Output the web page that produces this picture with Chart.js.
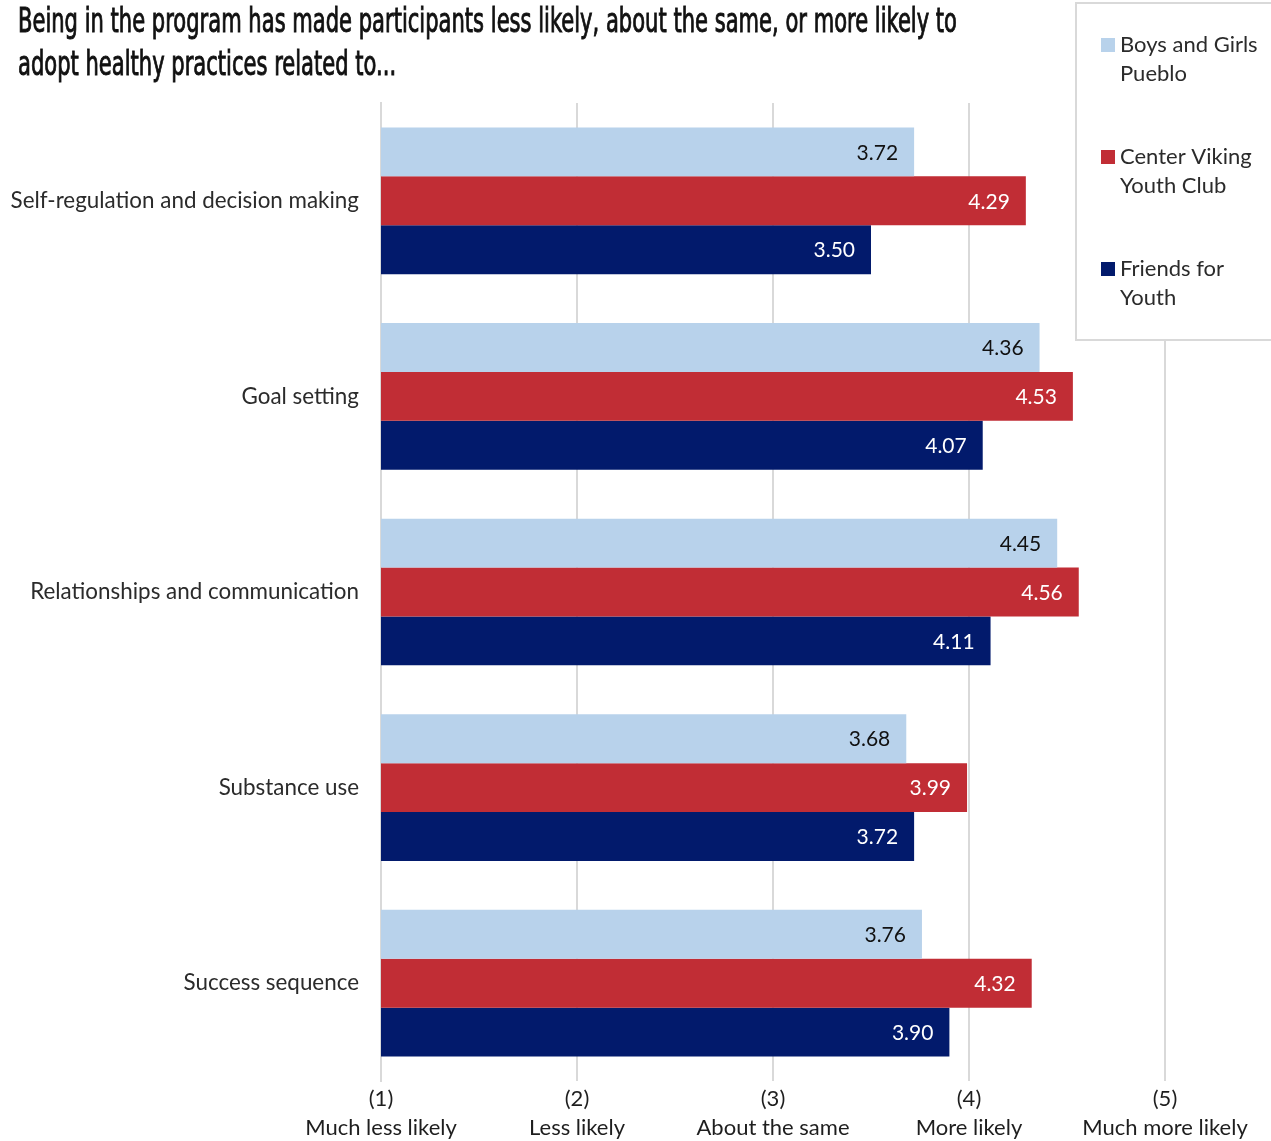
<!DOCTYPE html>
<html>
<head>
<meta charset="utf-8">
<title>Healthy practices by program</title>
<script src="https://cdn.jsdelivr.net/npm/chart.js@4"></script>
<style>
  html, body { margin: 0; padding: 0; background: #fff; }
  #wrap { width: 1271px; height: 1141px; position: relative; }
</style>
</head>
<body>
<div id="wrap"><canvas id="practiceChart" width="1271" height="1141"></canvas></div>
<script>
const titleLines = [
  'Being in the program has made participants less likely, about the same, or more likely to',
  'adopt healthy practices related to...'
];
const categories = [
  'Self-regulation and decision making',
  'Goal setting',
  'Relationships and communication',
  'Substance use',
  'Success sequence'
];
const seriesNames = ['Boys and Girls Pueblo', 'Center Viking Youth Club', 'Friends for Youth'];
const boysGirlsPueblo = [3.72, 4.36, 4.45, 3.68, 3.76];
const centerViking = [4.29, 4.53, 4.56, 3.99, 4.32];
const friendsForYouth = [3.50, 4.07, 4.11, 3.72, 3.90];
const scaleTicks = [
  ['(1)', 'Much less likely'],
  ['(2)', 'Less likely'],
  ['(3)', 'About the same'],
  ['(4)', 'More likely'],
  ['(5)', 'Much more likely']
];

const barColors = ['#b8d2eb', '#c12d35', '#021a6c'];
const valueColors = ['#111111', '#ffffff', '#ffffff'];
const FONT = 'Lato, "Open Sans", sans-serif';

// Two-line condensed headline above the plot
const headline = {
  id: 'headline',
  afterDraw(chart) {
    const ctx = chart.ctx;
    ctx.save();
    ctx.fillStyle = '#111';
    ctx.strokeStyle = '#111';
    ctx.lineWidth = 0.9;
    ctx.textBaseline = 'alphabetic';
    ctx.textAlign = 'left';
    ctx.font = '33px "Liberation Sans Narrow", "DejaVu Sans Condensed", sans-serif';
    const squeeze = 939 / ctx.measureText(titleLines[0]).width;
    titleLines.forEach((line, i) => {
      ctx.save();
      ctx.translate(18, 32 + i * 43);
      ctx.scale(squeeze, 1);
      ctx.fillText(line, 0, 0);
      ctx.strokeText(line, 0, 0);
      ctx.restore();
    });
    ctx.restore();
  }
};

// Value printed just inside the end of every bar
const barValues = {
  id: 'barValues',
  afterDatasetsDraw(chart) {
    const ctx = chart.ctx;
    ctx.save();
    ctx.font = '21px ' + FONT;
    ctx.textAlign = 'right';
    ctx.textBaseline = 'middle';
    chart.data.datasets.forEach((ds, di) => {
      ctx.fillStyle = valueColors[di];
      chart.getDatasetMeta(di).data.forEach((bar, i) => {
        ctx.fillText(ds.data[i].toFixed(2), bar.x - 16, bar.y + 1);
      });
    });
    ctx.restore();
  }
};

// Boxed legend in the top right corner with word-wrapped names
const sideLegend = {
  id: 'sideLegend',
  afterDraw(chart) {
    const ctx = chart.ctx;
    ctx.save();
    ctx.fillStyle = '#fff';
    ctx.strokeStyle = '#d9d9d9';
    ctx.lineWidth = 2;
    ctx.fillRect(1076, 3, 200, 337);
    ctx.strokeRect(1076, 3, 200, 337);
    ctx.font = '22px ' + FONT;
    ctx.textBaseline = 'middle';
    ctx.textAlign = 'left';
    chart.data.datasets.forEach((ds, di) => {
      const words = ds.label.split(' ');
      const lines = [];
      let cur = '';
      words.forEach(w => {
        const next = cur ? cur + ' ' + w : w;
        if (cur && ctx.measureText(next).width > 148) { lines.push(cur); cur = w; }
        else cur = next;
      });
      lines.push(cur);
      const top = 45 + di * 112;
      ctx.fillStyle = ds.backgroundColor;
      ctx.fillRect(1101, top - 7, 14, 14);
      ctx.fillStyle = '#2b2b2b';
      lines.forEach((l, li) => ctx.fillText(l, 1120, top + li * 29));
    });
    ctx.restore();
  }
};

new Chart(document.getElementById('practiceChart'), {
  type: 'bar',
  data: {
    labels: categories,
    datasets: [boysGirlsPueblo, centerViking, friendsForYouth].map((vals, i) => ({
      label: seriesNames[i],
      data: vals,
      backgroundColor: barColors[i],
      borderWidth: 0,
      categoryPercentage: 0.75,
      barPercentage: 1
    }))
  },
  options: {
    indexAxis: 'y',
    responsive: false,
    animation: false,
    devicePixelRatio: 1,
    layout: { padding: { top: 103, right: 106, bottom: 0, left: 0 } },
    plugins: { legend: { display: false }, title: { display: false }, tooltip: { enabled: false } },
    scales: {
      x: {
        min: 1,
        max: 5,
        ticks: {
          stepSize: 1,
          padding: 3,
          color: '#1e1e1e',
          font: { family: FONT, size: 22, lineHeight: 1.32 },
          callback: (v) => scaleTicks[v - 1] || ''
        },
        grid: { color: '#d9d9d9', lineWidth: 2, drawTicks: false },
        border: { display: false },
        afterFit(scale) { scale.height = 60; }
      },
      y: {
        ticks: { padding: 22, color: '#2b2b2b', font: { family: FONT, size: 22.4 } },
        grid: { display: false, drawTicks: false },
        border: { display: true, color: '#d9d9d9', width: 2 },
        afterFit(scale) { scale.width = 381; }
      }
    }
  },
  plugins: [barValues, sideLegend, headline]
});
</script>
</body>
</html>
